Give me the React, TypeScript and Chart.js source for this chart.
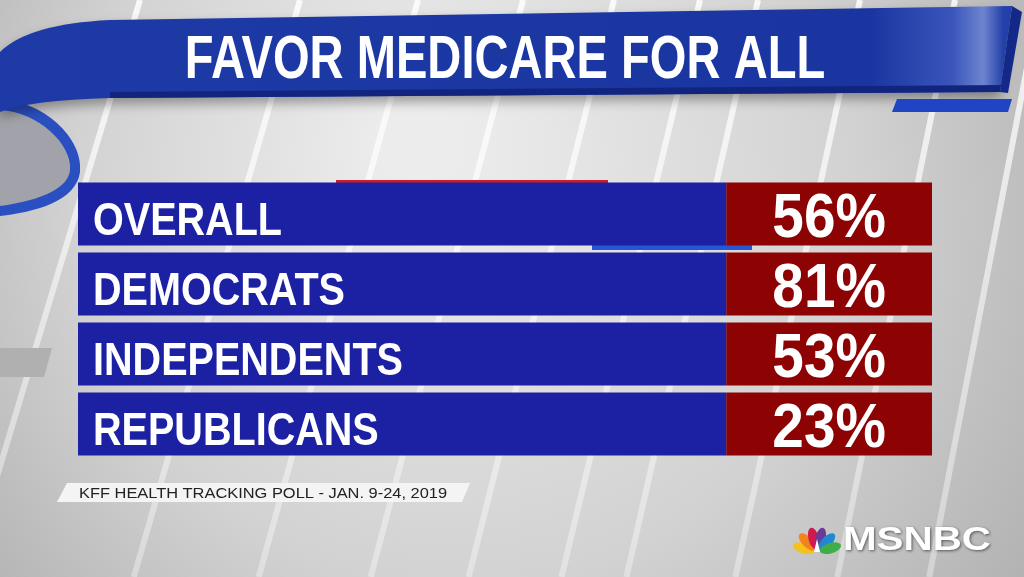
import React, { useEffect, useRef } from "react";
import { Chart, registerables } from "chart.js";

Chart.register(...registerables);

// ---------- data ----------
const TITLE = "FAVOR MEDICARE FOR ALL";
const categories = ["OVERALL", "DEMOCRATS", "INDEPENDENTS", "REPUBLICANS"];
const favorValues = [56, 81, 53, 23];
const valueSuffix = "%";
const SOURCE = "KFF HEALTH TRACKING POLL - JAN. 9-24, 2019";
const NETWORK = "MSNBC";

// ---------- layout / style ----------
const W = 1024;
const H = 577;
const LABEL_PANEL_END = 75.9; // share of the row (x scale 0..100) used by the blue label panel
const BAR_BLUE = "#1c20a2";
const BOX_RED = "#8d0303";
const FONT = '"Liberation Sans", Arial, sans-serif';

function drawScaled(
  ctx: CanvasRenderingContext2D,
  text: string,
  x: number,
  y: number,
  sx: number,
  align: CanvasTextAlign,
  font: string,
  color: string
) {
  ctx.save();
  ctx.font = font;
  ctx.fillStyle = color;
  ctx.textAlign = align;
  ctx.textBaseline = "alphabetic";
  ctx.translate(x, y);
  ctx.scale(sx, 1);
  ctx.fillText(text, 0, 0);
  ctx.restore();
}

function drawFit(
  ctx: CanvasRenderingContext2D,
  text: string,
  x: number,
  y: number,
  width: number,
  align: CanvasTextAlign,
  font: string,
  color: string
) {
  ctx.save();
  ctx.font = font;
  const w = ctx.measureText(text).width;
  ctx.restore();
  drawScaled(ctx, text, x, y, width / w, align, font, color);
}

function drawBackground(ctx: CanvasRenderingContext2D) {
  ctx.save();
  const g = ctx.createRadialGradient(420, 140, 40, 520, 260, 820);
  g.addColorStop(0, "#ececec");
  g.addColorStop(0.45, "#d2d2d2");
  g.addColorStop(1, "#9a9a9a");
  ctx.fillStyle = g;
  ctx.fillRect(0, 0, W, H);

  // slanted light stripes, fading downward
  const stripeTops = [140, 300, 418, 523, 614, 700, 758, 860, 955, 1040];
  const sg = ctx.createLinearGradient(0, 0, 0, H);
  sg.addColorStop(0, "rgba(255,255,255,0.85)");
  sg.addColorStop(0.5, "rgba(255,255,255,0.55)");
  sg.addColorStop(1, "rgba(255,255,255,0.35)");
  ctx.strokeStyle = sg;
  ctx.lineWidth = 6;
  stripeTops.forEach((x0, i) => {
    const s = 0.3 - i * 0.012;
    ctx.beginPath();
    ctx.moveTo(x0, 0);
    ctx.lineTo(x0 - s * H, H);
    ctx.stroke();
  });

  // left grey tab
  ctx.fillStyle = "#b0b0b0";
  ctx.beginPath();
  ctx.moveTo(0, 348);
  ctx.lineTo(52, 348);
  ctx.lineTo(44, 377);
  ctx.lineTo(0, 377);
  ctx.closePath();
  ctx.fill();

  // ribbon loop (left)
  ctx.fillStyle = "#a2a3aa";
  ctx.beginPath();
  ctx.moveTo(0, 110);
  ctx.bezierCurveTo(35, 110, 70, 140, 70, 170);
  ctx.bezierCurveTo(70, 192, 30, 204, 0, 206);
  ctx.closePath();
  ctx.fill();
  ctx.fillStyle = "#2a4fc0";
  ctx.beginPath();
  ctx.moveTo(0, 100);
  ctx.bezierCurveTo(42, 100, 84, 138, 80, 172);
  ctx.bezierCurveTo(76, 202, 34, 212, 0, 216);
  ctx.lineTo(0, 206);
  ctx.bezierCurveTo(30, 202, 68, 192, 70, 170);
  ctx.bezierCurveTo(72, 144, 38, 112, 0, 110);
  ctx.closePath();
  ctx.fill();

  // main banner
  ctx.save();
  ctx.shadowColor = "rgba(0,0,0,0.35)";
  ctx.shadowBlur = 12;
  ctx.shadowOffsetY = 6;
  const bg = ctx.createLinearGradient(0, 0, W, 0);
  bg.addColorStop(0, "#1d3aa6");
  bg.addColorStop(0.85, "#1a35a0");
  bg.addColorStop(0.93, "#3a56bb");
  bg.addColorStop(0.96, "#6d84cf");
  bg.addColorStop(0.98, "#2340a8");
  ctx.fillStyle = bg;
  ctx.beginPath();
  ctx.moveTo(0, 52);
  ctx.quadraticCurveTo(28, 24, 110, 20);
  ctx.lineTo(1012, 6);
  ctx.lineTo(1000, 92);
  ctx.lineTo(110, 98);
  ctx.quadraticCurveTo(30, 100, 0, 112);
  ctx.closePath();
  ctx.fill();
  ctx.restore();

  // bottom bevel
  ctx.fillStyle = "#11257f";
  ctx.beginPath();
  ctx.moveTo(110, 92);
  ctx.lineTo(1001, 85);
  ctx.lineTo(1000, 92);
  ctx.lineTo(110, 98);
  ctx.closePath();
  ctx.fill();
  // right bevel
  ctx.fillStyle = "#14288a";
  ctx.beginPath();
  ctx.moveTo(1012, 6);
  ctx.lineTo(1022, 12);
  ctx.lineTo(1008, 93);
  ctx.lineTo(1000, 92);
  ctx.closePath();
  ctx.fill();

  // small blue tab under banner
  ctx.fillStyle = "#1f45c4";
  ctx.beginPath();
  ctx.moveTo(897, 99);
  ctx.lineTo(1012, 99);
  ctx.lineTo(1008, 112);
  ctx.lineTo(892, 112);
  ctx.closePath();
  ctx.fill();

  // title
  drawScaled(ctx, TITLE, 505, 78, 0.76, "center", `bold 62px ${FONT}`, "#ffffff");
  ctx.restore();
}

function drawPeacock(ctx: CanvasRenderingContext2D, cx: number, cy: number) {
  const colors = ["#f5c21b", "#f3821f", "#d2194d", "#6a3b96", "#1f88d2", "#3fad49"];
  const angles = [-74, -44, -14, 14, 44, 74];
  ctx.save();
  colors.forEach((c, i) => {
    const a = (angles[i] * Math.PI) / 180;
    ctx.save();
    ctx.translate(cx, cy);
    ctx.rotate(a);
    ctx.fillStyle = c;
    ctx.beginPath();
    ctx.ellipse(0, -14, 5.2, 11, 0, 0, Math.PI * 2);
    ctx.fill();
    ctx.restore();
  });
  ctx.fillStyle = "#ffffff";
  ctx.beginPath();
  ctx.moveTo(cx - 3, cy);
  ctx.lineTo(cx, cy - 13);
  ctx.lineTo(cx + 3, cy);
  ctx.closePath();
  ctx.fill();
  ctx.restore();
}

const overlayPlugin = {
  id: "overlay",
  beforeDraw(chart: any) {
    drawBackground(chart.ctx);
  },
  beforeDatasetsDraw(chart: any) {
    const ctx: CanvasRenderingContext2D = chart.ctx;
    ctx.save();
    ctx.fillStyle = "#c7202c";
    ctx.fillRect(336, 180, 272, 5);
    ctx.fillStyle = "#2457d6";
    ctx.fillRect(592, 245, 160, 5);
    ctx.restore();
  },
  afterDatasetsDraw(chart: any) {
    const ctx: CanvasRenderingContext2D = chart.ctx;
    const panels = chart.getDatasetMeta(0).data;
    const boxes = chart.getDatasetMeta(1).data;
    categories.forEach((cat, i) => {
      const p = panels[i];
      const b = boxes[i];
      const left = Math.min(p.x, p.base);
      drawScaled(ctx, cat, left + 15, p.y + 21, 0.86, "left", `bold 46px ${FONT}`, "#ffffff");
      const cx = (b.x + b.base) / 2;
      drawScaled(
        ctx,
        `${favorValues[i]}${valueSuffix}`,
        cx,
        b.y + 22.5,
        0.9,
        "center",
        `bold 63px ${FONT}`,
        "#ffffff"
      );
    });

    // source strip
    ctx.save();
    ctx.fillStyle = "#f4f4f4";
    ctx.beginPath();
    ctx.moveTo(57, 502);
    ctx.lineTo(67, 483);
    ctx.lineTo(470, 483);
    ctx.lineTo(462, 502);
    ctx.closePath();
    ctx.fill();
    ctx.restore();
    drawFit(ctx, SOURCE, 79, 498, 368, "left", `14px ${FONT}`, "#222222");

    // network logo
    drawPeacock(ctx, 817, 552);
    ctx.save();
    ctx.shadowColor = "rgba(0,0,0,0.55)";
    ctx.shadowBlur = 3;
    ctx.shadowOffsetX = 1;
    ctx.shadowOffsetY = 1;
    drawFit(ctx, NETWORK, 843, 550, 148, "left", `bold 33px ${FONT}`, "#ffffff");
    ctx.restore();
  },
};

export default function App() {
  const ref = useRef<HTMLCanvasElement | null>(null);

  useEffect(() => {
    document.body.style.margin = "0";
    const canvas = ref.current;
    if (!canvas) return;
    const chart = new Chart(canvas, {
      type: "bar",
      data: {
        labels: categories,
        datasets: [
          {
            label: "Group",
            data: categories.map(() => [0, LABEL_PANEL_END]) as any,
            backgroundColor: BAR_BLUE,
            borderWidth: 0,
            barPercentage: 0.9,
            categoryPercentage: 1,
            grouped: false,
          } as any,
          {
            label: "Favor",
            data: categories.map(() => [LABEL_PANEL_END, 100]) as any,
            backgroundColor: BOX_RED,
            borderWidth: 0,
            barPercentage: 0.9,
            categoryPercentage: 1,
            grouped: false,
          } as any,
        ],
      },
      options: {
        indexAxis: "y",
        responsive: false,
        animation: false,
        layout: { padding: { left: 78, right: 92, top: 179, bottom: 118 } },
        scales: {
          x: { display: false, min: 0, max: 100 },
          y: { display: false },
        },
        plugins: {
          legend: { display: false },
          tooltip: { enabled: false },
        },
      },
      plugins: [overlayPlugin],
    });
    return () => chart.destroy();
  }, []);

  return (
    <div style={{ position: "fixed", left: 0, top: 0, width: W, height: H }}>
      <canvas ref={ref} width={W} height={H} style={{ display: "block", width: W, height: H }} />
    </div>
  );
}
